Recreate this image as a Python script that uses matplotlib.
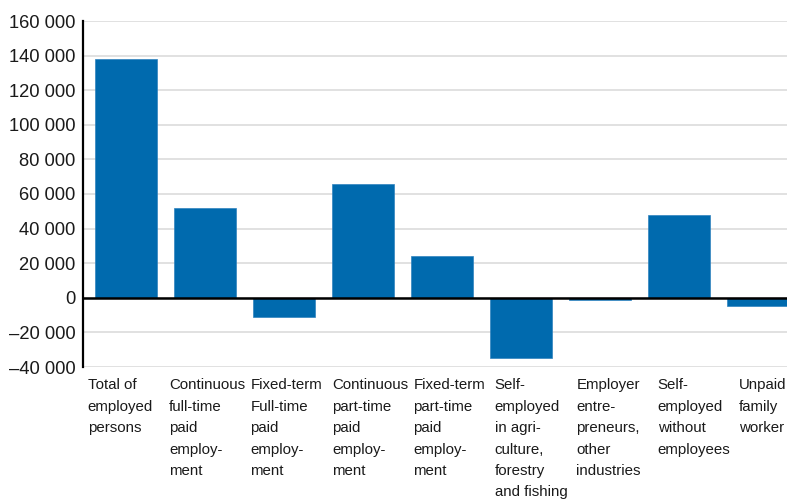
import matplotlib
matplotlib.use("Agg")
import matplotlib.pyplot as plt
from matplotlib.ticker import FuncFormatter

categories = [
    "Total of\nemployed\npersons",
    "Continuous\nfull-time\npaid\nemploy-\nment",
    "Fixed-term\nFull-time\npaid\nemploy-\nment",
    "Continuous\npart-time\npaid\nemploy-\nment",
    "Fixed-term\npart-time\npaid\nemploy-\nment",
    "Self-\nemployed\nin agri-\nculture,\nforestry\nand fishing",
    "Employer\nentre-\npreneurs,\nother\nindustries",
    "Self-\nemployed\nwithout\nemployees",
    "Unpaid\nfamily\nworker",
]
values = [138000, 52000, -11000, 66000, 24000, -35000, -1000, 48000, -5000]
yticks = [-40000, -20000, 0, 20000, 40000, 60000, 80000, 100000, 120000, 140000, 160000]

FONT = ["Liberation Sans", "DejaVu Sans"]
plt.rcParams["font.family"] = FONT

fig = plt.figure(figsize=(7.87, 5.01), dpi=100)
ax = fig.add_axes([83 / 787, 1 - 367 / 501, 1 - 83 / 787, (367 - 21) / 501])

x = list(range(len(values)))
ax.bar(x, values, width=0.79, color="#006aae", edgecolor="#2f82bf", linewidth=0.5, zorder=2)

ax.set_ylim(-40000, 160000)
ax.set_xlim(-0.545, 8.37)
ax.set_yticks(yticks)
ax.yaxis.set_major_formatter(FuncFormatter(
    lambda v, p: ("\u2013" if v < 0 else "") + f"{abs(int(v)):,}".replace(",", " ")))
ax.tick_params(axis="y", length=0, labelsize=13.2, pad=5.5, colors="#1a1a1a")
ax.tick_params(axis="x", length=0, labelbottom=False)
ax.grid(axis="y", color="#dcdcdc", linewidth=1.2, zorder=0)
ax.set_axisbelow(True)
for s in ["top", "right", "bottom"]:
    ax.spines[s].set_visible(False)
ax.spines["left"].set_color("black")
ax.spines["left"].set_linewidth(1.6)
ax.axhline(0, color="black", linewidth=1.8, zorder=3)

# category labels: left-aligned blocks in evenly spaced columns below the axis
col0, colstep = 0.0065, 0.1157
for i, lab in enumerate(categories):
    ax.text(col0 + colstep * i, -0.032, lab, transform=ax.transAxes, ha="left", va="top",
            fontsize=10.8, linespacing=1.68, color="#1a1a1a")

fig.savefig("out.png", dpi=100)
